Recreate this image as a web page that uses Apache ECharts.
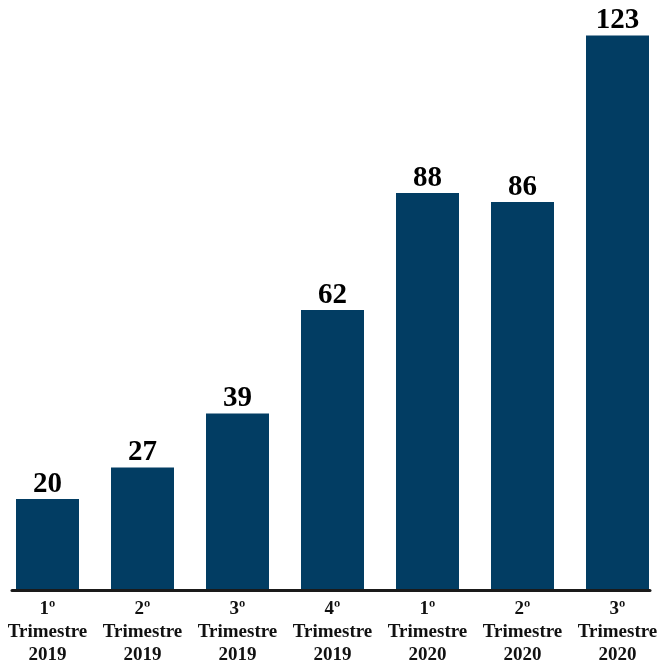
<!DOCTYPE html>
<html><head><meta charset="utf-8">
<script src="https://cdn.jsdelivr.net/npm/echarts@6/dist/echarts.min.js"></script>
<style>html,body{margin:0;padding:0;background:#fff}#c{width:662px;height:661px}</style>
</head><body><div id="c"></div>
<script>
const categories = ["1º\nTrimestre\n2019","2º\nTrimestre\n2019","3º\nTrimestre\n2019","4º\nTrimestre\n2019","1º\nTrimestre\n2020","2º\nTrimestre\n2020","3º\nTrimestre\n2020"];
const values = [20, 27, 39, 62, 88, 86, 123];
const chart = echarts.init(document.getElementById('c'));
const font = '"Liberation Serif", "Times New Roman", serif';
chart.setOption({
  animation: false,
  grid: [
    {left: 0, right: -3, top: 4, bottom: 72, outerBoundsMode: 'none', containLabel: false},
    {left: 12, right: 12, top: 4, bottom: 71, outerBoundsMode: 'none', containLabel: false}
  ],
  xAxis: [
    {type: 'category', data: categories, gridIndex: 0,
     axisLine: {show: false}, axisTick: {show: false},
     axisLabel: {color: '#111', fontFamily: font, fontWeight: 'bold', fontSize: 19, lineHeight: 23, margin: 9, interval: 0}},
    {type: 'value', gridIndex: 1, min: 0, max: 1, axisLine: {show: true, lineStyle: {color: '#1a1a1a', width: 3}},
     axisTick: {show: false}, axisLabel: {show: false}, splitLine: {show: false}}
  ],
  yAxis: [
    {type: 'value', gridIndex: 0, min: 0, max: 130, show: false, splitLine: {show: false}},
    {type: 'value', gridIndex: 1, show: false}
  ],
  series: [{
    type: 'bar', data: values, xAxisIndex: 0, yAxisIndex: 0, barWidth: 63,
    itemStyle: {color: '#023d63'},
    label: {show: true, position: 'top', distance: 0, color: '#000', fontFamily: font, fontWeight: 'bold', fontSize: 29}
  }]
});
</script></body></html>
